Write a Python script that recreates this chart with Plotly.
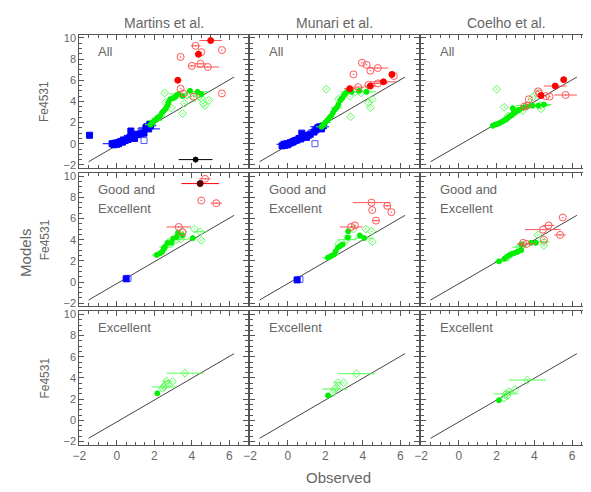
import plotly.graph_objects as go
from plotly.subplots import make_subplots

W, H = 591, 492

col_titles = ["Martins et al.", "Munari et al.", "Coelho et al."]
row_labels = [["All"], ["Good and", "Excellent"], ["Excellent"]]
x_ticks = [-2, 0, 2, 4, 6]
y_ticks = [-2, 0, 2, 4, 6, 8, 10]
one_to_one_x = [-1.5, 6.25]
one_to_one_y = [-1.7, 6.3]

# ---------------- Martins, All ----------------
ma_blue_f_x = [-1.45, -0.25, -0.15, -0.1, 0.0, 0.05, 0.1, 0.2, 0.3, 0.35, 0.45, 0.55, 0.6, 0.7, 0.75, 0.85, 0.95, 1.05, 1.2, 1.3, 1.45, 1.55, 1.6, 1.7, 1.75, 1.8]
ma_blue_f_y = [0.8, 0.0, -0.1, 0.05, -0.05, 0.1, 0.0, 0.2, 0.15, 0.35, 0.3, 0.5, 0.4, 0.6, 1.2, 0.7, 0.5, 0.9, 0.85, 1.0, 1.0, 1.5, 1.6, 1.4, 1.8, 1.7]
ma_blue_f_ex = [0, 0.5, 0, 0, 0.2, 0, 0, 0, 0.3, 0, 0, 0, 0, 0.5, 0, 0, 0, 0.3, 0, 0, 0, 0.4, 0, 0.6, 0, 0.3]
ma_blue_o_x = [1.45]
ma_blue_o_y = [0.3]
ma_green_f_x = [1.8, 1.9, 2.0, 2.1, 2.2, 2.3, 2.4, 2.5, 2.6, 2.7, 2.75, 2.85, 3.0, 3.1, 3.2, 3.3, 3.5, 3.9, 4.3, 4.5]
ma_green_f_y = [1.8, 2.0, 2.2, 2.3, 2.5, 2.6, 2.9, 3.1, 3.3, 3.6, 3.9, 4.2, 4.3, 4.4, 4.6, 4.7, 4.5, 5.0, 4.9, 4.7]
ma_green_f_ex = [0.3, 0, 0.4, 0, 0, 0.3, 0, 0, 0.2, 0, 0, 0, 0.3, 0, 0, 0.5, 0, 0, 0.6, 0]
ma_green_o_x = [2.55, 2.6, 2.9, 3.5, 3.6, 3.75, 3.9, 4.1, 4.3, 4.5, 4.6, 4.7, 4.9, 4.4]
ma_green_o_y = [4.8, 3.9, 3.4, 2.85, 3.8, 4.6, 4.7, 4.3, 4.6, 4.3, 3.8, 3.6, 4.1, 4.5]
ma_red_f_x = [5.0, 4.35, 3.25]
ma_red_f_y = [9.75, 8.45, 6.0]
ma_red_f_ex = [0.6, 0, 0]
ma_red_o_x = [4.2, 4.5, 5.6, 3.4, 4.0, 4.45, 4.85, 3.4, 3.55, 4.1, 5.6]
ma_red_o_y = [9.25, 8.65, 8.85, 8.2, 7.35, 7.55, 7.25, 5.2, 4.75, 4.45, 4.75]
ma_red_o_ex = [0.25, 0, 0, 0, 0.2, 0.3, 0.6, 0, 0, 0, 0]
ma_black_x = [4.2]
ma_black_y = [-1.5]
ma_black_ex = [0.9]

# ---------------- Munari, All ----------------
na_blue_f_x = [-0.3, -0.2, -0.15, -0.05, 0.0, 0.1, 0.15, 0.25, 0.3, 0.4, 0.5, 0.6, 0.7, 0.75, 0.9, 1.0, 1.1, 1.2, 1.4, 1.5, 1.6, 1.7, 1.8, 1.9]
na_blue_f_y = [-0.2, -0.05, -0.15, 0.0, -0.1, 0.05, 0.1, 0.15, 0.2, 0.3, 0.35, 0.5, 0.45, 1.0, 0.7, 0.6, 0.8, 0.9, 1.1, 1.3, 1.5, 1.6, 1.4, 1.7]
na_blue_f_ex = [0, 0.4, 0, 0, 0.2, 0, 0, 0.3, 0, 0, 0, 0.4, 0, 0, 0, 0.3, 0, 0, 0, 0.4, 0, 0.5, 0, 0.2]
na_blue_o_x = [1.45]
na_blue_o_y = [0.0]
na_green_f_x = [1.8, 1.9, 2.0, 2.1, 2.2, 2.3, 2.4, 2.5, 2.6, 2.7, 2.8, 2.9, 3.0, 3.1, 3.2, 3.4, 3.8, 4.2]
na_green_f_y = [1.6, 1.8, 2.0, 2.2, 2.4, 2.6, 2.9, 3.2, 3.4, 3.7, 4.1, 4.3, 4.6, 4.8, 5.0, 4.9, 5.0, 4.9]
na_green_f_ex = [0.3, 0, 0.3, 0, 0, 0.2, 0, 0, 0.3, 0, 0, 0, 0.2, 0, 0, 0.6, 0, 0.5]
na_green_o_x = [2.05, 2.7, 3.35, 4.3, 4.4, 4.5, 3.6, 3.9, 4.1, 3.3]
na_green_o_y = [5.15, 4.2, 2.55, 3.9, 3.4, 4.2, 4.9, 4.8, 5.1, 4.5]
na_red_f_x = [3.3, 4.4, 5.1, 5.55]
na_red_f_y = [5.2, 5.45, 5.85, 6.55]
na_red_f_ex = [0.3, 0.3, 0.7, 0]
na_red_o_x = [3.95, 4.2, 4.8, 4.4, 3.5, 3.75, 4.3, 4.8, 5.65]
na_red_o_y = [7.65, 7.45, 7.15, 6.9, 6.55, 5.35, 5.55, 5.7, 6.4]
na_red_o_ex = [0, 0, 0.55, 0, 0, 0.3, 0, 0.5, 0]

# ---------------- Coelho, All ----------------
ca_green_f_x = [1.8, 1.9, 2.0, 2.1, 2.2, 2.3, 2.4, 2.5, 2.6, 2.7, 2.8, 2.9, 3.0, 3.1, 3.2, 3.4, 3.6, 3.9, 4.2, 4.5, 2.85]
ca_green_f_y = [1.7, 1.8, 1.85, 1.9, 2.0, 2.1, 2.2, 2.3, 2.45, 2.6, 2.7, 2.9, 3.0, 3.1, 3.2, 3.4, 3.5, 3.6, 3.6, 3.7, 3.35]
ca_green_f_ex = [0, 0, 0.2, 0, 0, 0, 0.2, 0, 0, 0, 0.3, 0, 0, 0, 0, 0.6, 0, 0.9, 0, 0.4, 0]
ca_green_o_x = [2.0, 2.4, 3.4, 3.9, 4.1, 4.35, 4.3, 2.6, 3.7]
ca_green_o_y = [5.15, 3.45, 3.15, 4.4, 4.75, 3.3, 3.6, 2.6, 3.7]
ca_red_f_x = [5.55, 5.1, 4.35]
ca_red_f_y = [6.05, 5.45, 4.55]
ca_red_f_ex = [0, 0.6, 0]
ca_red_o_x = [4.2, 4.25, 3.7, 3.6, 4.8, 5.65, 4.6, 3.45]
ca_red_o_y = [4.95, 4.75, 4.2, 3.6, 4.45, 4.6, 4.5, 3.5]
ca_red_o_ex = [0, 0, 0, 0, 0, 0.6, 0, 0]

# ---------------- Martins, Good and Excellent ----------------
mg_blue_f_x = [0.5]
mg_blue_f_y = [0.3]
mg_blue_o_x = [0.6]
mg_blue_o_y = [0.35]
mg_green_f_x = [2.12, 2.3, 2.42, 2.5, 2.56, 2.7, 2.9, 3.0, 3.18, 3.26, 3.5, 4.05]
mg_green_f_y = [2.55, 2.7, 2.85, 3.1, 3.3, 3.7, 3.7, 4.1, 4.25, 4.65, 4.4, 4.15]
mg_green_f_ex = [0.25, 0, 0, 0, 0, 0, 0, 0, 0, 0, 0, 0]
mg_green_o_x = [2.9, 3.4, 3.2, 3.53, 4.14, 4.44, 4.5, 2.55]
mg_green_o_y = [3.6, 4.05, 4.0, 4.75, 5.0, 4.75, 3.95, 3.3]
mg_green_o_ex = [0, 0.75, 0, 0, 0, 0.35, 0, 0.3]
mg_red_f_x = [4.44]
mg_red_f_y = [9.3]
mg_red_f_ex = [1.0]
mg_red_o_x = [4.7, 4.5, 5.3, 3.3, 3.5]
mg_red_o_y = [9.75, 7.7, 7.45, 5.2, 4.7]
mg_red_o_ex = [0.3, 0, 0.3, 0.65, 0]

# ---------------- Munari, Good and Excellent ----------------
ng_blue_f_x = [0.5]
ng_blue_f_y = [0.2]
ng_blue_o_x = [0.65]
ng_blue_o_y = [0.25]
ng_green_f_x = [2.14, 2.3, 2.46, 2.55, 2.67, 2.8, 2.93, 3.2, 3.22, 3.84, 4.07]
ng_green_f_y = [2.3, 2.45, 2.6, 2.9, 3.25, 3.4, 3.55, 4.2, 4.8, 4.4, 4.15]
ng_green_f_ex = [0.3, 0, 0.25, 0, 0, 0, 0, 0, 0, 0, 0.5]
ng_green_o_x = [2.7, 3.16, 3.2, 3.5, 4.16, 4.46, 4.51]
ng_green_o_y = [3.6, 4.0, 4.3, 5.0, 5.0, 4.8, 3.8]
ng_green_o_ex = [0, 0.5, 0, 0, 0, 0, 0]
ng_red_o_x = [4.46, 5.3, 4.5, 5.52, 4.7, 3.37, 3.58]
ng_red_o_y = [7.5, 7.2, 6.8, 6.6, 5.8, 5.2, 5.35]
ng_red_o_ex = [1.0, 0.2, 0, 0, 0.2, 0.6, 0]

# ---------------- Coelho, Good and Excellent ----------------
cg_green_f_x = [2.12, 2.42, 2.55, 2.68, 2.8, 2.95, 3.1, 3.3, 3.3, 3.82, 4.08]
cg_green_f_y = [1.95, 2.2, 2.4, 2.55, 2.65, 2.75, 2.85, 3.0, 3.55, 3.7, 3.7]
cg_green_f_ex = [0.25, 0, 0.2, 0, 0, 0.3, 0, 0, 0, 0, 0]
cg_green_o_x = [2.6, 3.2, 4.18, 4.5, 4.5, 3.4]
cg_green_o_y = [2.35, 3.3, 4.45, 3.45, 3.8, 3.5]
cg_green_o_ex = [0, 0.4, 0, 0, 0.3, 0]
cg_red_o_x = [5.5, 4.75, 4.45, 5.36, 4.5, 3.58, 3.4]
cg_red_o_y = [6.1, 5.35, 4.95, 4.45, 4.0, 3.6, 3.7]
cg_red_o_ex = [0, 0.3, 0.95, 0.3, 0, 0.5, 0]

# ---------------- Excellent ----------------
me_green_f_x = [2.16]
me_green_f_y = [2.55]
me_green_o_x = [2.44, 2.5, 2.56, 2.65, 2.75, 2.97, 3.63]
me_green_o_y = [3.0, 3.15, 3.3, 3.7, 3.45, 3.65, 4.45]
me_green_o_ex = [0, 0.65, 0, 0.2, 0, 0, 0.98]
ne_green_f_x = [2.14]
ne_green_f_y = [2.35]
ne_green_o_x = [2.4, 2.5, 2.6, 2.66, 2.98, 3.66]
ne_green_o_y = [2.6, 2.95, 3.1, 3.55, 3.55, 4.4]
ne_green_o_ex = [0, 0.65, 0, 0.2, 0, 0.98]
ce_green_f_x = [2.12]
ce_green_f_y = [1.9]
ce_green_o_x = [2.39, 2.5, 2.65, 2.97, 3.63, 2.55]
ce_green_o_y = [2.1, 2.5, 2.7, 2.9, 3.8, 2.3]
ce_green_o_ex = [0, 0.65, 0.2, 0, 0.98, 0]

BLUE = "#0000ff"
BLUE_L = "#5050ff"
GREEN = "#00f000"
GREEN_E = "#40ff40"
GREEN_L = "#55ff55"
RED = "#ff0000"
RED_L = "#ff5555"
AXC = "#666666"
LINEC = "#555555"

fig = make_subplots(rows=3, cols=3)


def add(row, col, x, y, ex=None, ey=None, symbol="circle", color="#000", size=6,
        ecolor=None, lw=1):
    tr = go.Scatter(
        x=x, y=y, mode="markers",
        marker=dict(symbol=symbol, color=color, size=size, line=dict(color=color, width=lw)),
        showlegend=False, hoverinfo="skip")
    if ex is not None:
        tr.error_x = dict(type="data", array=ex, visible=True, color=ecolor or color,
                          thickness=1, width=0)
    if ey is not None:
        if isinstance(ey, (int, float)):
            tr.error_y = dict(type="constant", value=ey, visible=True,
                              color=ecolor or color, thickness=1, width=0)
        else:
            tr.error_y = dict(type="data", array=ey, visible=True, color=ecolor or color,
                              thickness=1, width=0)
    fig.add_trace(tr, row=row, col=col)


for r in (1, 2, 3):
    for c in (1, 2, 3):
        fig.add_trace(go.Scatter(x=one_to_one_x, y=one_to_one_y, mode="lines",
                                 line=dict(color="#444444", width=1),
                                 showlegend=False, hoverinfo="skip"), row=r, col=c)

GF = dict(symbol="circle", color=GREEN, size=5, ecolor=GREEN_E)
GO = dict(symbol="diamond-open-dot", color=GREEN_L, size=6)
RO = dict(symbol="circle-open-dot", color=RED_L, size=7)
RF = dict(symbol="circle", color=RED, size=6, ecolor=RED_L)

# Row 1
add(1, 1, ma_blue_f_x, ma_blue_f_y, ma_blue_f_ex, symbol="square", color=BLUE, size=6)
add(1, 1, ma_blue_o_x, ma_blue_o_y, symbol="square-open", color=BLUE_L, size=6)
add(1, 1, ma_green_o_x, ma_green_o_y, **GO)
add(1, 1, ma_green_f_x, ma_green_f_y, ma_green_f_ex, 0.2, **GF)
add(1, 1, ma_red_o_x, ma_red_o_y, ma_red_o_ex, **RO)
add(1, 1, ma_red_f_x, ma_red_f_y, ma_red_f_ex, **RF)
add(1, 1, ma_black_x, ma_black_y, ma_black_ex, [0.25], symbol="circle", color="#000000", size=5)

add(1, 2, na_blue_f_x, na_blue_f_y, na_blue_f_ex, symbol="square", color=BLUE, size=6)
add(1, 2, na_blue_o_x, na_blue_o_y, symbol="square-open", color=BLUE_L, size=6)
add(1, 2, na_green_o_x, na_green_o_y, **GO)
add(1, 2, na_green_f_x, na_green_f_y, na_green_f_ex, 0.2, **GF)
add(1, 2, na_red_o_x, na_red_o_y, na_red_o_ex, **RO)
add(1, 2, na_red_f_x, na_red_f_y, na_red_f_ex, **RF)

add(1, 3, ca_green_o_x, ca_green_o_y, **GO)
add(1, 3, ca_green_f_x, ca_green_f_y, ca_green_f_ex, 0.2, **GF)
add(1, 3, ca_red_o_x, ca_red_o_y, ca_red_o_ex, **RO)
add(1, 3, ca_red_f_x, ca_red_f_y, ca_red_f_ex, **RF)

# Row 2
add(2, 1, mg_blue_o_x, mg_blue_o_y, symbol="square-open", color=BLUE_L, size=6)
add(2, 1, mg_blue_f_x, mg_blue_f_y, symbol="square", color=BLUE, size=6)
add(2, 1, mg_green_o_x, mg_green_o_y, mg_green_o_ex, **GO)
add(2, 1, mg_green_f_x, mg_green_f_y, mg_green_f_ex, 0.2, **GF)
add(2, 1, mg_red_o_x, mg_red_o_y, mg_red_o_ex, **RO)
add(2, 1, mg_red_f_x, mg_red_f_y, mg_red_f_ex, [0.3], symbol="circle", color="#500000", size=6, ecolor=RED)

add(2, 2, ng_blue_o_x, ng_blue_o_y, symbol="square-open", color=BLUE_L, size=6)
add(2, 2, ng_blue_f_x, ng_blue_f_y, symbol="square", color=BLUE, size=6)
add(2, 2, ng_green_o_x, ng_green_o_y, ng_green_o_ex, **GO)
add(2, 2, ng_green_f_x, ng_green_f_y, ng_green_f_ex, 0.2, **GF)
add(2, 2, ng_red_o_x, ng_red_o_y, ng_red_o_ex, **RO)

add(2, 3, cg_green_o_x, cg_green_o_y, cg_green_o_ex, **GO)
add(2, 3, cg_green_f_x, cg_green_f_y, cg_green_f_ex, 0.2, **GF)
add(2, 3, cg_red_o_x, cg_red_o_y, cg_red_o_ex, **RO)

# Row 3
add(3, 1, me_green_o_x, me_green_o_y, me_green_o_ex, **GO)
add(3, 1, me_green_f_x, me_green_f_y, None, 0.15, **GF)
add(3, 2, ne_green_o_x, ne_green_o_y, ne_green_o_ex, **GO)
add(3, 2, ne_green_f_x, ne_green_f_y, None, 0.15, **GF)
add(3, 3, ce_green_o_x, ce_green_o_y, ce_green_o_ex, **GO)
add(3, 3, ce_green_f_x, ce_green_f_y, None, 0.15, **GF)

col_px = [(65, 236), (238, 409), (411, 583)]
row_px = [(24, 159), (164, 299), (304, 439)]

FONT = "Liberation Sans, Arial, sans-serif"
for r in range(3):
    for c in range(3):
        idx = r * 3 + c + 1
        sfx = "" if idx == 1 else str(idx)
        x0, x1 = col_px[c]
        y0, y1 = row_px[r]
        fig.layout["xaxis" + sfx].update(
            domain=[x0 / W, x1 / W], range=[-2, 7],
            tickvals=x_ticks, ticktext=[str(v).replace("-", "\u2212") for v in x_ticks],
            ticks="inside", ticklen=5, tickcolor=LINEC,
            minor=dict(dtick=0.5, tick0=0, ticks="inside", ticklen=3, tickcolor=LINEC),
            showline=True, linecolor=LINEC, linewidth=1, mirror="ticks",
            showgrid=False, zeroline=False, showticklabels=(r == 2),
            tickfont=dict(size=12, color=AXC, family=FONT))
        fig.layout["yaxis" + sfx].update(
            domain=[1 - y1 / H, 1 - y0 / H], range=[-2.3, 10.3],
            tickvals=y_ticks, ticktext=[str(v).replace("-", "\u2212") for v in y_ticks],
            ticks="inside", ticklen=5, tickcolor=LINEC,
            minor=dict(dtick=0.5, tick0=0, ticks="inside", ticklen=3, tickcolor=LINEC),
            showline=True, linecolor=LINEC, linewidth=1, mirror="ticks",
            showgrid=False, zeroline=False, showticklabels=(c == 0),
            tickfont=dict(size=11, color=AXC, family=FONT))
        lines = row_labels[r]
        for k, t in enumerate(lines):
            fig.add_annotation(x=-1.1, y=8.75 - k * 1.8, xref="x" + sfx, yref="y" + sfx,
                               text=t, showarrow=False, xanchor="left", yanchor="middle",
                               font=dict(size=13, color=AXC, family=FONT))

for c, t in enumerate(col_titles):
    x0, x1 = col_px[c]
    fig.add_annotation(x=(x0 + x1) / 2 / W, y=1 - 12 / H, xref="paper", yref="paper",
                       text=t, showarrow=False, xanchor="center", yanchor="middle",
                       font=dict(size=14, color=AXC, family=FONT))
for r in range(3):
    y0, y1 = row_px[r]
    fig.add_annotation(x=30 / W, y=1 - (y0 + y1) / 2 / H, xref="paper", yref="paper",
                       text="Fe4531", textangle=-90, showarrow=False,
                       xanchor="center", yanchor="middle",
                       font=dict(size=12, color=AXC, family=FONT))
fig.add_annotation(x=10 / W, y=1 - 245 / H, xref="paper", yref="paper", text="Models",
                   textangle=-90, showarrow=False, xanchor="center", yanchor="middle",
                   font=dict(size=15, color=AXC, family=FONT))
fig.add_annotation(x=327 / W, y=1 - 472 / H, xref="paper", yref="paper", text="Observed",
                   showarrow=False, xanchor="center", yanchor="middle",
                   font=dict(size=15, color=AXC, family=FONT))

fig.update_layout(width=W, height=H, margin=dict(l=0, r=0, t=0, b=0),
                  paper_bgcolor="white", plot_bgcolor="white", showlegend=False)

fig.write_html("out.html")
